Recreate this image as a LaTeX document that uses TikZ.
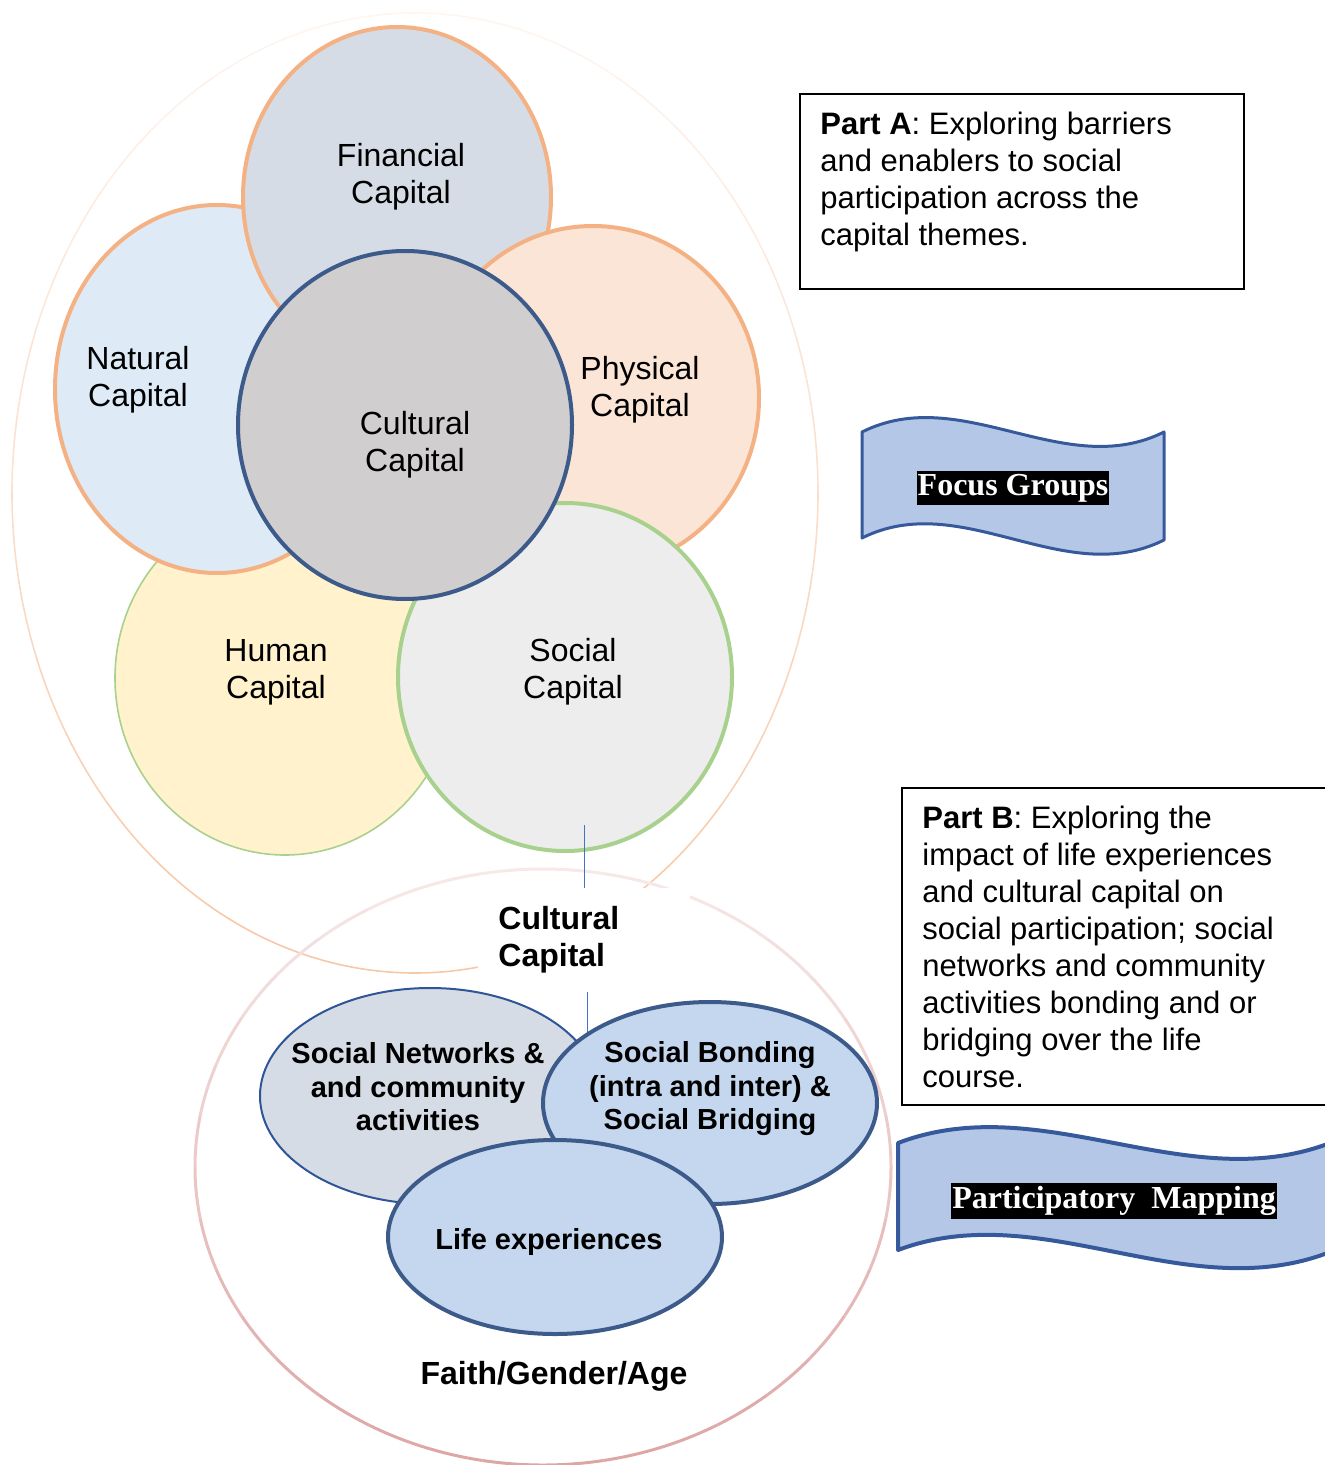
\documentclass[tikz,border=0pt]{standalone}
\usepackage{fontspec}
\setmainfont{Liberation Sans}
\newfontfamily\bannerfont{Liberation Serif}
\usetikzlibrary{shapes.geometric}
\usetikzlibrary{calc}

\definecolor{peachline}{HTML}{F4B183}
\definecolor{financefill}{HTML}{D6DCE5}
\definecolor{naturalfill}{HTML}{DEEBF7}
\definecolor{physicalfill}{HTML}{FBE5D6}
\definecolor{culturalfill}{HTML}{D0CECE}
\definecolor{culturaledge}{HTML}{3C5A8A}
\definecolor{humanfill}{HTML}{FFF2CC}
\definecolor{greenline}{HTML}{A9D18E}
\definecolor{socialfill}{HTML}{EDEDED}
\definecolor{networkfill}{HTML}{D6DCE5}
\definecolor{networkedge}{HTML}{2F5597}
\definecolor{bondfill}{HTML}{C5D7EE}
\definecolor{bannerfill}{HTML}{B4C7E7}
\definecolor{banneredge}{HTML}{35599A}
\definecolor{ringpink}{HTML}{DDA5A4}
\definecolor{linkblue}{HTML}{4472C4}

\begin{document}
\begin{tikzpicture}[x=0.5pt, y=-0.5pt,
    capital/.style={ellipse, draw=peachline, line width=2pt, inner sep=0pt},
    caplabel/.style={align=center, font=\fontsize{16}{18.5}\selectfont},
    bondlabel/.style={align=center, font=\bfseries\fontsize{14.5}{16.75}\selectfont},
    cclabel/.style={fill=white, align=left, text width=86pt, inner xsep=10pt, inner ysep=9pt, anchor=north west, font=\bfseries\fontsize{16}{18.5}\selectfont},
    partbox/.style={draw, line width=1pt, anchor=north west, inner sep=0pt},
    parttext/.style={align=left, anchor=north west, inner xsep=10.5pt, inner ysep=9.5pt, font=\fontsize{15.5}{18.5}\selectfont},
    banner/.style={fill=bannerfill, draw=banneredge, line join=round},
    bannertext/.style={fill=black, text=white, inner xsep=0.5pt, inner ysep=1.5pt, font=\bannerfont\bfseries\fontsize{16}{18}\selectfont},
    link/.style={draw=linkblue, line width=0.5pt}]

  \useasboundingbox (0,0) rectangle (1325,1465);

  % outer rings
  \coordinate (capring) at (415,493);
  \coordinate (faithring) at (543,1167);
  \foreach \a in {0,10,...,350}{
    \pgfmathtruncatemacro\mix{12+30*(1-sin(\a+5))}
    \draw[peachline!\mix, line width=0.8pt] ($(capring)+(\a:201.5pt and 240pt)$) arc[start angle=\a, delta angle=10, x radius=201.5pt, y radius=240pt];
  }
  \foreach \a in {0,10,...,350}{
    \pgfmathtruncatemacro\mix{25+75*(1-sin(\a+5))/2}
    \draw[ringpink!\mix, line width=1.5pt] ($(faithring)+(\a:174pt and 149pt)$) arc[start angle=\a, delta angle=10, x radius=174pt, y radius=149pt];
  }

  % capital themes
  \node[capital, fill=humanfill, draw=greenline, line width=0.8pt, minimum width=170pt, minimum height=177pt] (human) at (285,678) {};
  \node[capital, fill=naturalfill, minimum width=162pt, minimum height=184pt] (natural) at (217,389) {};
  \node[capital, fill=financefill, minimum width=154pt, minimum height=170pt] (financial) at (397,197) {};
  \node[capital, fill=physicalfill, minimum width=166pt, minimum height=172pt] (physical) at (593,398) {};
  \node[capital, fill=socialfill, draw=greenline, minimum width=167pt, minimum height=174pt] (social) at (565,677) {};
  \node[capital, fill=culturalfill, draw=culturaledge, minimum width=167pt, minimum height=174pt] (cultural) at (405,425) {};

  \node[caplabel] (finlabel) at (401,177) {Financial\\Capital};
  \node[caplabel] (natlabel) at (138,380) {Natural\\Capital};
  \node[caplabel] (phylabel) at (640,390) {Physical\\Capital};
  \node[caplabel] (cullabel) at (415,445) {Cultural\\Capital};
  \node[caplabel] (humlabel) at (276,672) {Human\\Capital};
  \node[caplabel] (soclabel) at (573,672) {Social\\Capital};

  % cultural capital themes
  \node[capital, fill=networkfill, draw=networkedge, line width=1pt, minimum width=170pt, minimum height=108pt] (networks) at (430,1096) {};
  \node[capital, fill=bondfill, draw=culturaledge, minimum width=167pt, minimum height=101pt] (bonding) at (710,1103) {};
  \node[capital, fill=bondfill, draw=culturaledge, minimum width=167pt, minimum height=97pt] (life) at (555,1237) {};

  \node[bondlabel] (netlabel) at (418,1087) {Social Networks \&\\and community\\activities};
  \node[bondlabel] (bondlabel) at (710,1089) {Social Bonding\\(intra and inter) \&\\Social Bridging};
  \node[bondlabel] (lifelabel) at (549,1242) {Life experiences};
  \node[cclabel] (cctext) at (478,888) {Cultural\\Capital};
  \node[font=\bfseries\fontsize{16}{18.5}\selectfont] (faith) at (554,1376) {Faith/Gender/Age};

  % link between the two parts
  \coordinate (linktop) at (584,825);
  \coordinate (linkend) at (587,1032);
  \draw[link] (linktop) -- (linktop |- cctext.north);
  \draw[link] (linkend |- cctext.south) -- (linkend);

  % part boxes
  \node[partbox, minimum width=222pt, minimum height=97.5pt] (boxA) at (799,93) {};
  \node[parttext] (partA) at (boxA.north west) {\textbf{Part A}: Exploring barriers\\and enablers to social\\participation across the\\capital themes.};
  \node[partbox, minimum width=222pt, minimum height=158.5pt] (boxB) at (901,787) {};
  \node[parttext] (partB) at (boxB.north west) {\textbf{Part B}: Exploring the\\impact of life experiences\\and cultural capital on\\social participation; social\\networks and community\\activities bonding and or\\bridging over the life\\course.};

  % banners
  \draw[banner, line width=1.5pt] (862,432) .. controls (962,382) and (1064,482) .. (1164,432) -- (1164,540) .. controls (1064,590) and (962,488) .. (862,538) -- cycle;
  \node[bannertext] (focus) at (1013,488) {Focus Groups};
  \draw[banner, line width=2pt] (898,1143) .. controls (1042,1088) and (1186,1198) .. (1330,1143) -- (1330,1252) .. controls (1186,1308) and (1042,1196) .. (898,1250) -- cycle;
  \node[bannertext] (mapping) at (1114,1201) {Participatory~~Mapping};
\end{tikzpicture}
\end{document}
